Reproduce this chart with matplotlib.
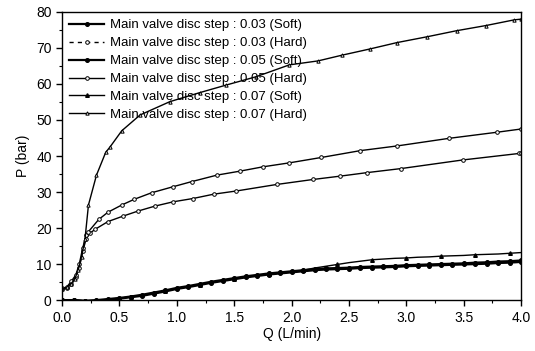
import matplotlib
matplotlib.use("Agg")
import matplotlib.pyplot as plt
from matplotlib.ticker import MultipleLocator

plt.rcParams['font.family'] = ['Liberation Sans', 'DejaVu Sans']

# high pressure curves (Hard)
q_h07 = [0, 0.04, 0.08, 0.11, 0.14, 0.17, 0.20, 0.23, 0.30, 0.38, 0.42, 0.52, 0.68, 0.94, 1.20,
         1.43, 1.69, 1.98, 2.23, 2.44, 2.68, 2.92, 3.18, 3.44, 3.69, 3.94, 4.0]
p_h07 = [3.2, 3.5, 4.6, 5.8, 8.3, 12, 17, 26.4, 34.7, 41.0, 42.6, 47.0, 51.4, 55.1, 57.6,
         59.7, 62.0, 65.3, 66.4, 68.0, 69.7, 71.5, 73.1, 74.8, 76.2, 77.8, 78.0]

q_h05 = [0, 0.04, 0.08, 0.12, 0.15, 0.18, 0.21, 0.23, 0.32, 0.40, 0.52, 0.63, 0.78, 0.97, 1.13,
         1.35, 1.55, 1.75, 1.98, 2.26, 2.60, 2.92, 3.37, 3.79, 4.0]
p_h05 = [3.3, 3.6, 5.2, 7.0, 10.0, 14.5, 18.0, 19.0, 22.4, 24.4, 26.4, 28.0, 29.8, 31.5, 32.9,
         34.7, 35.8, 37.0, 38.1, 39.6, 41.5, 42.8, 44.9, 46.6, 47.5]

q_h03 = [0, 0.04, 0.08, 0.12, 0.15, 0.18, 0.21, 0.24, 0.29, 0.40, 0.53, 0.66, 0.81, 0.97, 1.14,
         1.32, 1.52, 1.87, 2.19, 2.42, 2.66, 2.95, 3.49, 3.98, 4.0]
p_h03 = [3.0, 3.3, 4.6, 6.4, 9.0, 13.5, 17.0, 18.5, 19.7, 21.8, 23.3, 24.7, 26.1, 27.3, 28.2,
         29.4, 30.3, 32.1, 33.5, 34.4, 35.4, 36.5, 38.9, 40.7, 40.8]

# low pressure curves (Soft)
q_soft = [0.0, 0.1, 0.2, 0.3, 0.4, 0.5, 0.6, 0.7, 0.8, 0.9, 1.0, 1.1, 1.2, 1.3, 1.4, 1.5, 1.6,
          1.7, 1.8, 1.9, 2.0, 2.1, 2.2, 2.3, 2.4, 2.5, 2.6, 2.7, 2.8, 2.9, 3.0, 3.1, 3.2, 3.3,
          3.4, 3.5, 3.6, 3.7, 3.8, 3.9, 4.0]
p_s03 = [0, 0, -0.3, -0.2, 0.1, 0.4, 0.8, 1.2, 1.8, 2.4, 3.1, 3.6, 4.2, 4.8, 5.3, 5.8, 6.3,
         6.7, 7.1, 7.4, 7.7, 8.0, 8.3, 8.5, 8.6, 8.7, 8.9, 9.0, 9.1, 9.2, 9.4, 9.5, 9.6, 9.7,
         9.8, 9.9, 10.0, 10.1, 10.3, 10.4, 10.6]
p_s05 = [0, 0, -0.2, 0, 0.3, 0.6, 1.0, 1.5, 2.1, 2.7, 3.4, 3.9, 4.5, 5.1, 5.6, 6.1, 6.6,
         7.0, 7.4, 7.7, 8.0, 8.3, 8.6, 8.8, 8.9, 9.0, 9.2, 9.3, 9.4, 9.5, 9.7, 9.8, 9.9, 10.0,
         10.1, 10.2, 10.4, 10.5, 10.7, 10.8, 11.0]
p_s07 = [0, 0, -0.2, -0.1, 0.2, 0.5, 0.9, 1.3, 1.9, 2.5, 3.2, 3.7, 4.3, 4.9, 5.4, 5.9, 6.4,
         6.8, 7.2, 7.5, 7.8, 8.3, 8.9, 9.4, 9.9, 10.4, 10.8, 11.2, 11.4, 11.6, 11.7, 11.9, 12.0,
         12.2, 12.3, 12.4, 12.6, 12.7, 12.8, 13.0, 13.2]

labels = ["Main valve disc step : 0.03 (Soft)", "Main valve disc step : 0.03 (Hard)",
          "Main valve disc step : 0.05 (Soft)", "Main valve disc step : 0.05 (Hard)",
          "Main valve disc step : 0.07 (Soft)", "Main valve disc step : 0.07 (Hard)"]

fig = plt.figure(figsize=(5.35, 3.51), dpi=100)
ax = fig.add_axes([0.116, 0.145, 0.858, 0.821])

k = dict(color='black', lw=1.0)
ax.plot(q_soft, p_s03, marker='o', ms=2.6, mfc='black', label=labels[0], lw=1.6, color='black')
ax.plot(q_h03, p_h03, marker='o', ms=2.6, mfc='white', mew=0.7, label=labels[1], **k)
ax.plot(q_soft, p_s05, marker='o', ms=2.6, mfc='black', label=labels[2], lw=1.6, color='black')
ax.plot(q_h05, p_h05, marker='o', ms=2.6, mfc='white', mew=0.7, label=labels[3], **k)
ax.plot(q_soft, p_s07, marker='^', ms=2.6, mfc='black', markevery=3, label=labels[4], **k)
ax.plot(q_h07, p_h07, marker='^', ms=2.4, mfc='white', mew=0.7, label=labels[5], **k)

ax.set_xlim(0, 4.0)
ax.set_ylim(0, 80)
ax.xaxis.set_major_locator(MultipleLocator(0.5))
ax.xaxis.set_minor_locator(MultipleLocator(0.25))
ax.yaxis.set_major_locator(MultipleLocator(10))
ax.yaxis.set_minor_locator(MultipleLocator(5))
ax.xaxis.set_major_formatter(matplotlib.ticker.FormatStrFormatter('%.1f'))
ax.tick_params(which='major', direction='out', length=4, width=1, labelsize=10)
ax.tick_params(which='minor', direction='out', length=2, width=0.8)
for s in ax.spines.values():
    s.set_linewidth(1.0)

ax.set_xlabel("Q (L/min)", fontsize=10, labelpad=2)
ax.set_ylabel("P (bar)", fontsize=10, labelpad=4)

leg = ax.legend(loc='upper left', bbox_to_anchor=(0.0, 1.0), frameon=False, fontsize=9.5,
                handlelength=2.65, handletextpad=0.45, labelspacing=0.43, borderaxespad=0.15)
leg.get_lines()[1].set_linestyle((0, (3, 3)))

fig.savefig("out.png", dpi=100)
